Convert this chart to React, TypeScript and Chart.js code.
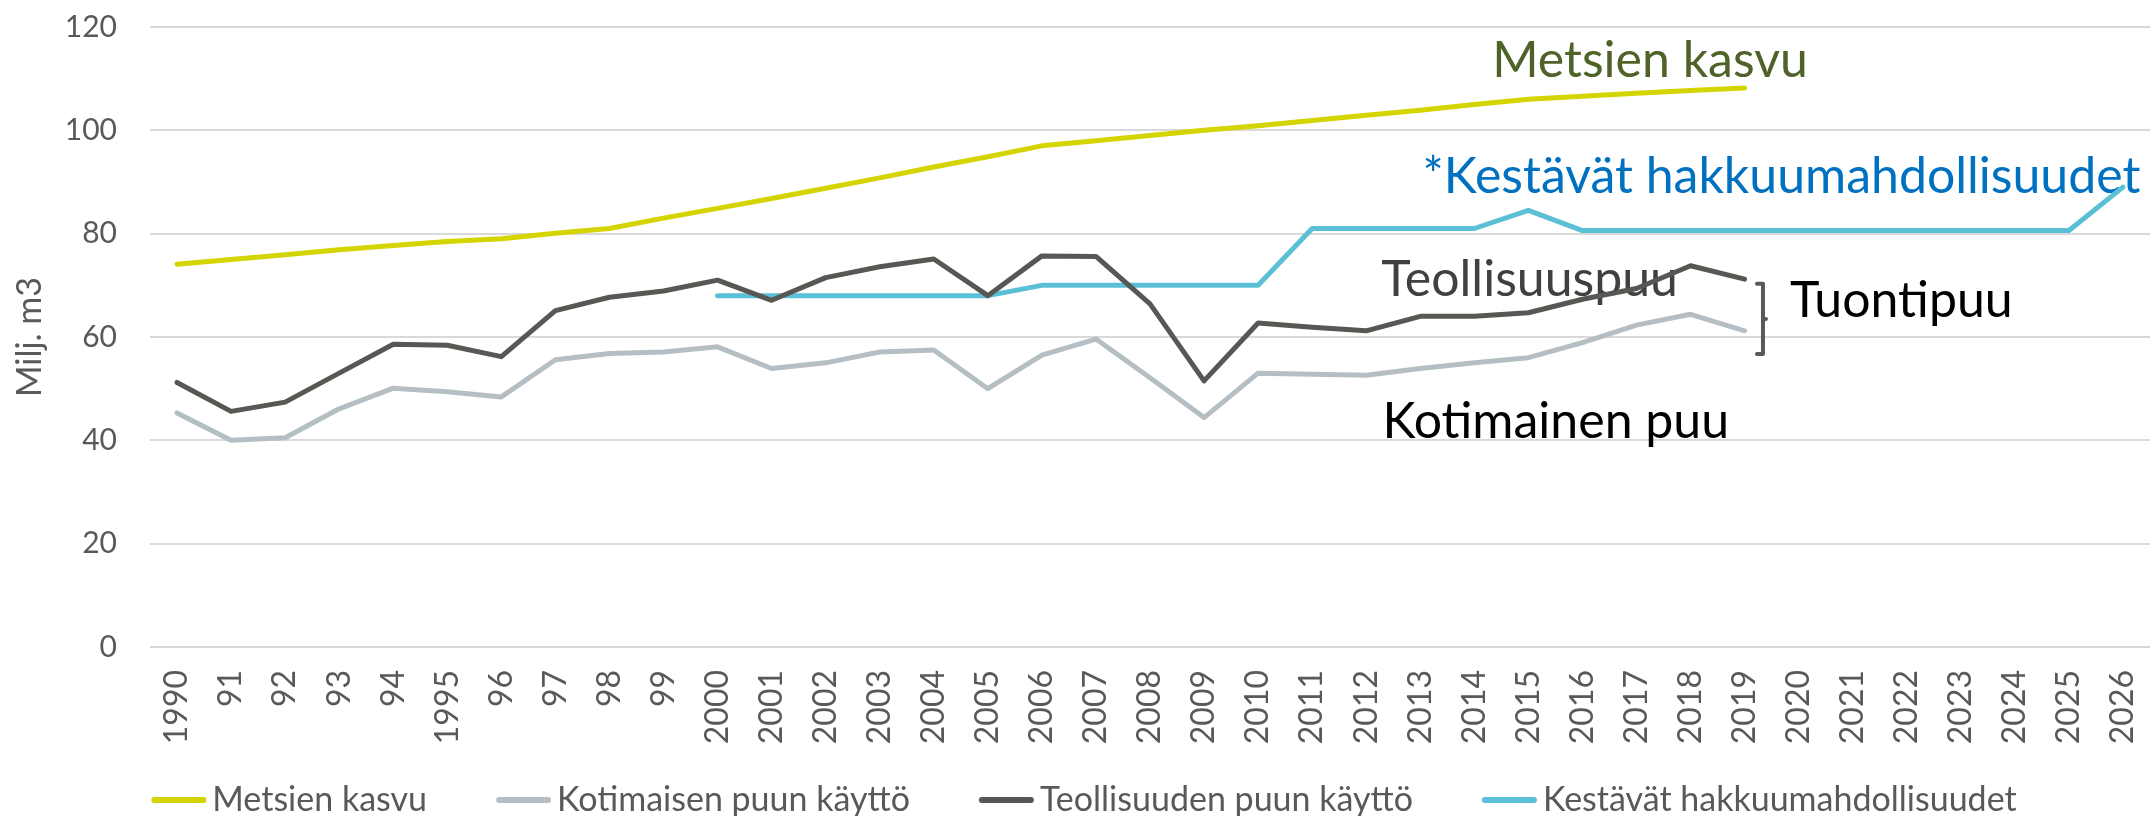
import React, { useEffect, useRef } from 'react';
import { Chart, registerables } from 'chart.js';

Chart.register(...registerables);

const categories = [
  '1990', '91', '92', '93', '94', '1995', '96', '97', '98', '99',
  '2000', '2001', '2002', '2003', '2004', '2005', '2006', '2007', '2008', '2009',
  '2010', '2011', '2012', '2013', '2014', '2015', '2016', '2017', '2018', '2019',
  '2020', '2021', '2022', '2023', '2024', '2025', '2026',
];

const metsienKasvu = [
  74.1, 75.0, 75.9, 76.9, 77.7, 78.5, 79.0, 80.1, 81.0, 83.0,
  84.9, 86.8, 88.8, 90.8, 92.9, 94.9, 97.0, 98.0, 99.0, 100.0,
  100.9, 101.9, 102.9, 103.9, 105.0, 106.0, 106.6, 107.2, 107.7, 108.2,
  null, null, null, null, null, null, null,
];

const kotimaisenKaytto = [
  45.3, 40.0, 40.5, 46.1, 50.1, 49.4, 48.4, 55.6, 56.8, 57.1,
  58.1, 53.9, 55.0, 57.1, 57.5, 50.0, 56.5, 59.6, 52.1, 44.4,
  53.0, 52.8, 52.6, 53.9, 55.0, 56.0, 58.9, 62.3, 64.4, 61.2,
  null, null, null, null, null, null, null,
];

const teollisuudenKaytto = [
  51.2, 45.6, 47.4, 53.0, 58.6, 58.4, 56.2, 65.1, 67.7, 68.9,
  71.0, 67.1, 71.5, 73.6, 75.1, 68.0, 75.7, 75.6, 66.4, 51.5,
  62.7, 61.9, 61.2, 64.0, 64.0, 64.7, 67.3, 69.4, 73.8, 71.2,
  null, null, null, null, null, null, null,
];

const kestavatHakkuut = [
  null, null, null, null, null, null, null, null, null, null,
  68, 68, 68, 68, 68, 68, 70, 70, 70, 70,
  70, 81, 81, 81, 81, 84.5, 80.6, 80.6, 80.6, 80.6,
  80.6, 80.6, 80.6, 80.6, 80.6, 80.6, 89,
];

const seriesLabels = [
  'Metsien kasvu',
  'Kotimaisen puun käyttö',
  'Teollisuuden puun käyttö',
  'Kestävät hakkuumahdollisuudet',
];
const seriesColors = ['#D4D400', '#B5BFC3', '#575753', '#5BBFD5'];

const yTicks = [0, 20, 40, 60, 80, 100, 120];
const yTitle = 'Milj. m3';

// annotation texts placed in data units (category index, value)
const annotationTexts = ['Metsien kasvu', '*Kestävät hakkuumahdollisuudet', 'Teollisuuspuu', 'Kotimainen puu', 'Tuontipuu'];
const annotationX = [24.33, 23.04, 22.28, 22.3, 29.84];
const annotationY = [110.3, 87.9, 67.9, 40.45, 63.9];
const annotationColors = ['#4F6228', '#0070C0', '#404040', '#000000', '#000000'];
// bracket for "Tuontipuu" (category index, value range)
const bracketX = 29.34;
const bracketTop = 70.3;
const bracketBottom = 56.7;

const FONT = 'Lato, "Open Sans", sans-serif';

const annotationPlugin = {
  id: 'annotationPlugin',
  beforeDatasetsDraw(chart: any) {
    const { ctx } = chart;
    const xs = chart.scales.x;
    const ys = chart.scales.y;
    ctx.save();
    ctx.font = `50px ${FONT}`;
    ctx.textAlign = 'left';
    ctx.textBaseline = 'alphabetic';
    annotationTexts.forEach((t, i) => {
      ctx.fillStyle = annotationColors[i];
      ctx.fillText(t, xs.getPixelForValue(annotationX[i]), ys.getPixelForValue(annotationY[i]));
    });
    // bracket
    const bx = xs.getPixelForValue(bracketX);
    const by1 = ys.getPixelForValue(bracketTop);
    const by2 = ys.getPixelForValue(bracketBottom);
    const bm = (by1 + by2) / 2;
    ctx.strokeStyle = '#595959';
    ctx.lineWidth = 4;
    ctx.lineCap = 'round';
    ctx.lineJoin = 'round';
    ctx.beginPath();
    ctx.moveTo(bx - 6, by1);
    ctx.lineTo(bx, by1);
    ctx.lineTo(bx, by2);
    ctx.lineTo(bx - 6, by2);
    ctx.moveTo(bx, bm);
    ctx.lineTo(bx + 3, bm);
    ctx.stroke();
    ctx.restore();
  },
  afterDraw(chart: any) {
    const { ctx } = chart;
    const ds = chart.data.datasets;
    ctx.save();
    ctx.font = `34px ${FONT}`;
    ctx.textBaseline = 'middle';
    ctx.textAlign = 'left';
    const sampleW = 55;
    const gap = 6;
    const itemGap = 69;
    const widths = ds.map((d: any) => ctx.measureText(d.label).width);
    const total = widths.reduce((a: number, w: number) => a + sampleW + gap + w, 0) + itemGap * (ds.length - 1);
    let x = 1084 - total / 2;
    const yc = 800;
    ds.forEach((d: any, i: number) => {
      ctx.strokeStyle = d.borderColor;
      ctx.lineWidth = 6;
      ctx.lineCap = 'round';
      ctx.beginPath();
      ctx.moveTo(x + 3, yc);
      ctx.lineTo(x + sampleW - 3, yc);
      ctx.stroke();
      ctx.fillStyle = '#595959';
      ctx.fillText(d.label, x + sampleW + gap, yc);
      x += sampleW + gap + widths[i] + itemGap;
    });
    ctx.restore();
  },
};

export default function App() {
  const canvasRef = useRef<HTMLCanvasElement | null>(null);

  useEffect(() => {
    document.body.style.margin = '0';
    const canvas = canvasRef.current;
    if (!canvas) return;
    const seriesData = [metsienKasvu, kotimaisenKaytto, teollisuudenKaytto, kestavatHakkuut];
    const chart = new Chart(canvas, {
      type: 'line',
      data: {
        labels: categories,
        datasets: seriesData.map((d, i) => ({
          label: seriesLabels[i],
          data: d,
          borderColor: seriesColors[i],
          backgroundColor: seriesColors[i],
          borderWidth: 5,
          pointRadius: 0,
          pointHoverRadius: 0,
          tension: 0,
          fill: false,
          spanGaps: false,
          borderCapStyle: 'round',
          borderJoinStyle: 'round',
        })),
      },
      options: {
        responsive: false,
        animation: false,
        devicePixelRatio: 1,
        layout: { padding: { top: 27, right: 5, bottom: 0, left: 0 } },
        plugins: {
          legend: { display: false },
          tooltip: { enabled: false },
        },
        scales: {
          x: {
            type: 'category',
            offset: true,
            grid: { display: false, drawTicks: false },
            border: { display: false },
            ticks: {
              autoSkip: false,
              maxRotation: 90,
              minRotation: 90,
              padding: 23,
              color: '#595959',
              font: { family: FONT, size: 32 },
            },
            afterFit(scale: any) {
              scale.height = 169;
              scale.paddingLeft = 0;
              scale.paddingRight = 0;
            },
          },
          y: {
            min: 0,
            max: 120,
            afterBuildTicks(scale: any) {
              scale.ticks = yTicks.map((v) => ({ value: v }));
            },
            grid: { color: '#D9D9D9', lineWidth: 2, drawTicks: false },
            border: { display: false },
            ticks: {
              padding: 33,
              color: '#595959',
              font: { family: FONT, size: 30 },
            },
            title: {
              display: true,
              text: yTitle,
              color: '#595959',
              font: { family: FONT, size: 34 },
              padding: { top: 10, bottom: 0 },
            },
            afterFit(scale: any) {
              scale.width = 150;
              scale.paddingTop = 0;
              scale.paddingBottom = 0;
            },
          },
        },
      },
      plugins: [annotationPlugin],
    });
    return () => chart.destroy();
  }, []);

  return (
    <div style={{ width: 2155, height: 816, position: 'relative' }}>
      <canvas ref={canvasRef} width={2155} height={816} style={{ display: 'block' }} />
    </div>
  );
}
